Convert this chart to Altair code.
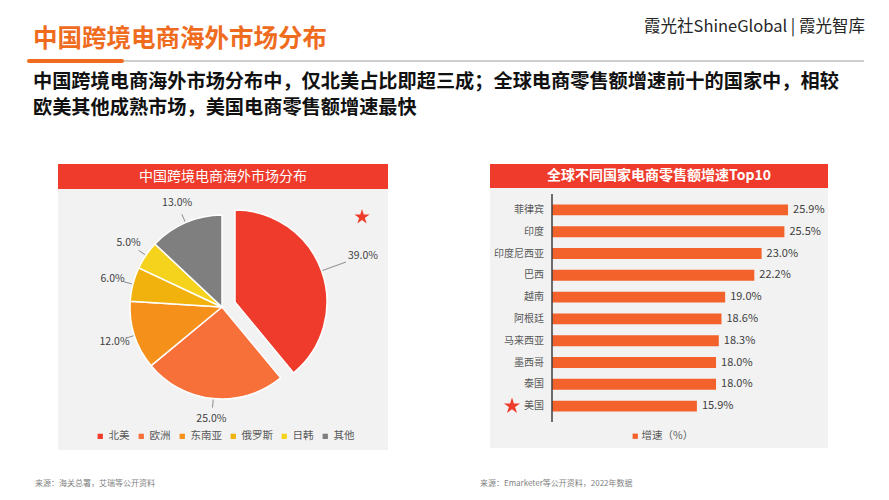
import math
import altair as alt
import pandas as pd

# ---------------- data ----------------
regions = ["北美", "欧洲", "东南亚", "俄罗斯", "日韩", "其他"]
shares = [39.0, 25.0, 12.0, 6.0, 5.0, 13.0]
pie_colors = ["#EE3B2B", "#F7703A", "#F5901A", "#F2B20E", "#F5D31C", "#7F7F7F"]

countries = ["菲律宾", "印度", "印度尼西亚", "巴西", "越南", "阿根廷", "马来西亚", "墨西哥", "泰国", "美国"]
growth = [25.9, 25.5, 23.0, 22.2, 19.0, 18.6, 18.3, 18.0, 18.0, 15.9]
bar_series = "增速（%）"

title_text = "中国跨境电商海外市场分布"
brand_text = "霞光社ShineGlobal | 霞光智库"
subtitle_lines = [
    "中国跨境电商海外市场分布中，仅北美占比即超三成；全球电商零售额增速前十的国家中，相较",
    "欧美其他成熟市场，美国电商零售额增速最快",
]
left_header = "中国跨境电商海外市场分布"
right_header = "全球不同国家电商零售额增速Top10"
source_left = "来源：海关总署，艾瑞等公开资料"
source_right = "来源：Emarketer等公开资料，2022年数据"

FONT = "Noto Sans CJK SC"
W, H = 873, 484
STAR = ("M0,-1L0.2245,-0.309L0.951,-0.309L0.363,0.118L0.588,0.809L0,0.382"
        "L-0.588,0.809L-0.363,0.118L-0.951,-0.309L-0.2245,-0.309Z")

one = pd.DataFrame({"k": [0]})


def box(x1, x2, y1, y2, color):
    return alt.Chart(one).mark_rect(color=color).encode(
        x=alt.value(x1), x2=alt.value(x2), y=alt.value(y1), y2=alt.value(y2))


def label(text, x, y, size, color, weight="normal", align="left"):
    return alt.Chart(one).mark_text(
        text=text, font=FONT, fontSize=size, color=color, fontWeight=weight,
        align=align, baseline="middle").encode(x=alt.value(x), y=alt.value(y))


# ---------------- decorations ----------------
deco = [
    label(title_text, 25, 32, 24.5, "#EF6C1E", "bold"),
    label(brand_text, 857, 19, 16.5, "#262626", "normal", "right"),
    alt.Chart(one).mark_rule(color="#BFBFBF", strokeWidth=1.5).encode(
        x=alt.value(110), x2=alt.value(856), y=alt.value(53)),
    alt.Chart(one).mark_rule(color="#EF6C1E", strokeWidth=4, strokeCap="round").encode(
        x=alt.value(21), x2=alt.value(114), y=alt.value(53)),
    label(subtitle_lines[0], 25, 74, 19.2, "#111111", "bold"),
    label(subtitle_lines[1], 25, 100, 19.2, "#111111", "bold"),
    box(50, 380, 156, 442, "#F2F2F2"),
    box(50, 380, 156, 181, "#EE3B2B"),
    label(left_header, 215, 168.5, 14, "white", "normal", "center"),
    box(482, 820, 156, 440, "#F2F2F2"),
    box(482, 820, 156, 180, "#EE3B2B"),
    label(right_header, 651, 168, 14, "white", "bold", "center"),
    label(source_left, 27, 476, 8, "#7F7F7F"),
    label(source_right, 472, 476, 8, "#7F7F7F"),
    alt.Chart(one).mark_point(shape=STAR, filled=True, color="#EE3B2B", size=250, opacity=1).encode(
        x=alt.value(354), y=alt.value(209)),
]

# ---------------- pie ----------------
CX, CY = 214, 299
NX, NY = 227, 294
R = 92
theta_scale = alt.Scale(domain=[0, 100], range=[0, 2 * math.pi])
px_x = alt.Scale(domain=[0, W], range=[0, W])
px_y = alt.Scale(domain=[0, H], range=[0, H])
pie_df = pd.DataFrame({"region": regions, "share": shares, "order": list(range(len(regions)))})

pie_base = alt.Chart(pie_df).transform_window(
    end="sum(share)", sort=[alt.SortField("order")], frame=[None, 0]
).transform_calculate(
    start="datum.end - datum.share",
    mid="datum.end - datum.share / 2",
    lab="format(datum.share, '.1f') + '%'",
    cx=f"datum.region == '北美' ? {NX} : {CX}",
    cy=f"datum.region == '北美' ? {NY} : {CY}",
    ang="(datum.end - datum.share / 2) / 100 * 2 * PI",
)

color_enc = alt.Color(
    "region:N",
    scale=alt.Scale(domain=regions, range=pie_colors),
    legend=alt.Legend(
        orient="none", legendX=87, legendY=423, direction="horizontal", title=None,
        symbolType="square", symbolSize=28, labelFont=FONT, labelFontSize=10.5,
        labelColor="#595959", columnPadding=6, labelOffset=3, symbolStrokeWidth=0,
    ),
)

arc_rest = pie_base.transform_filter("datum.region != '北美'").mark_arc(
    radius=R, stroke="white", strokeWidth=1.5).encode(
    x=alt.value(CX), y=alt.value(CY),
    theta=alt.Theta("start:Q", scale=theta_scale), theta2="end:Q",
    color=color_enc,
)
arc_na = pie_base.transform_filter("datum.region == '北美'").mark_arc(
    radius=R, stroke="white", strokeWidth=1.5).encode(
    x=alt.value(NX), y=alt.value(NY),
    theta=alt.Theta("start:Q", scale=theta_scale), theta2="end:Q",
    color=color_enc,
)

pie_labels_rest = pie_base.transform_filter("datum.region != '北美'").mark_text(
    radius=113, font=FONT, fontSize=10.5, color="#404040").encode(
    x=alt.value(CX), y=alt.value(CY),
    theta=alt.Theta("mid:Q", scale=theta_scale), text="lab:N",
)
pie_labels_na = pie_base.transform_filter("datum.region == '北美'").mark_text(
    radius=136, font=FONT, fontSize=10.5, color="#404040").encode(
    x=alt.value(NX), y=alt.value(NY),
    theta=alt.Theta("mid:Q", scale=theta_scale), text="lab:N",
)

pie = alt.layer(arc_rest, arc_na, pie_labels_rest, pie_labels_na)

leaders = pie_base.transform_calculate(
    x1="datum.cx + 93 * sin(datum.ang)", y1="datum.cy - 93 * cos(datum.ang)",
    x2="datum.cx + (datum.region == '北美' ? 118 : 101) * sin(datum.ang)",
    y2="datum.cy - (datum.region == '北美' ? 118 : 101) * cos(datum.ang)",
).mark_rule(color="#8C8C8C", strokeWidth=1).encode(
    x=alt.X("x1:Q", scale=px_x, axis=None), y=alt.Y("y1:Q", scale=px_y, axis=None),
    x2="x2:Q", y2="y2:Q",
)

# ---------------- bars ----------------
bar_df = pd.DataFrame({"country": countries, "growth": growth, "series": [bar_series] * len(countries)})
xs = alt.Scale(domain=[0, 30], range=[544, 817.4])
ys = alt.Scale(domain=countries, range=[191, 409], paddingInner=0.5, paddingOuter=0.25)

bar_base = alt.Chart(bar_df).transform_calculate(lab="format(datum.growth, '.1f') + '%'")

bars = bar_base.mark_bar().encode(
    x=alt.X("growth:Q", scale=xs, axis=None),
    y=alt.Y("country:N", scale=ys, axis=None, sort=countries),
    color=alt.Color("series:N", scale=alt.Scale(range=["#F4622B"]), legend=alt.Legend(
        orient="none", legendX=622, legendY=423, title=None, symbolType="square",
        symbolSize=28, labelFont=FONT, labelFontSize=10.5, labelColor="#595959",
        labelOffset=1, symbolStrokeWidth=0)),
)
values = bar_base.mark_text(align="left", dx=5, font=FONT, fontSize=11, color="#404040").encode(
    x=alt.X("growth:Q", scale=xs, axis=None),
    y=alt.Y("country:N", scale=ys, axis=None, sort=countries),
    text="lab:N",
)
names = bar_base.mark_text(align="right", font=FONT, fontSize=10, color="#595959").encode(
    x=alt.value(536),
    y=alt.Y("country:N", scale=ys, axis=None, sort=countries),
    text="country:N",
)
us_star = bar_base.transform_filter("datum.country == '美国'").mark_point(
    shape=STAR, filled=True, color="#EE3B2B", size=290, opacity=1).encode(
    x=alt.value(504),
    y=alt.Y("country:N", scale=ys, axis=None, sort=countries),
)
axis_line = alt.Chart(one).mark_rule(color="#404040", strokeWidth=1.5).encode(
    x=alt.value(544), y=alt.value(186), y2=alt.value(414))

bar_panel = alt.layer(bars, values, names, us_star, axis_line)

chart = alt.layer(*deco, pie, leaders, bar_panel).resolve_scale(
    x="independent", y="independent", color="independent"
).properties(
    width=W, height=H, autosize=alt.AutoSizeParams(type="none"), padding=0,
    background="white",
).configure_view(stroke=None)

chart.save("out.html", embed_options={"renderer": "svg", "actions": False})
